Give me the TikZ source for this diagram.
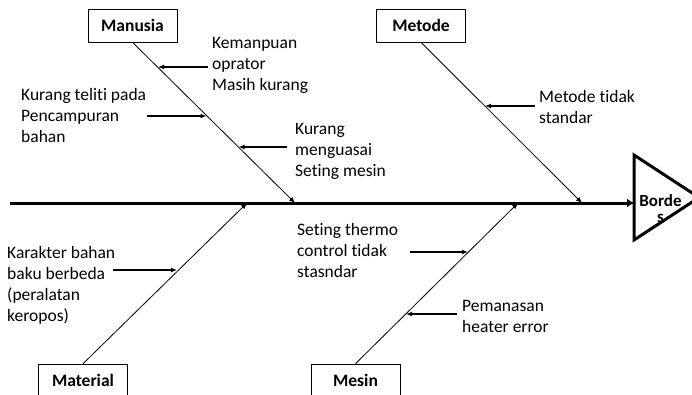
\documentclass[tikz,border=0pt]{standalone}
\usepackage{fontspec}
\setmainfont{Carlito}[Ligatures=NoCommon]
\usetikzlibrary{arrows.meta}

\begin{document}
\begin{tikzpicture}[x=1pt,y=-1pt,>={Latex[length=6pt,width=5pt]},
  every node/.style={font=\fontsize{17.5}{21}\selectfont},
  cause/.style={draw,line width=0.6pt,minimum width=89pt,minimum height=33pt,inner sep=0pt,
    font=\fontsize{17.5}{21}\selectfont\bfseries},
  note/.style={anchor=north west,align=left,inner sep=0pt},
  bone/.style={->,line width=0.8pt},
  twig/.style={->,line width=1.2pt}]
  \path[use as bounding box] (0,0) rectangle (692,394);
  \clip (0,0) rectangle (692,394);

  % categories
  \node[cause] (manusia)  at (132.5,25.5) {Manusia};
  \node[cause] (metode)   at (421,25.5)   {Metode};
  \node[cause] (material) at (83,380.5)   {Material};
  \node[cause] (mesin)    at (355.5,380.5) {Mesin};

  % spine and head
  \coordinate (tail) at (10,203);
  \coordinate (head) at (634,203);
  \coordinate (h1) at (634,155);
  \coordinate (h2) at (699,197.5);
  \coordinate (h3) at (634,240);
  \draw[line width=3pt,line join=miter] (h1) -- (h2) -- (h3) -- cycle;
  \node[anchor=north,align=center,inner sep=0pt,font=\fontsize{17}{16}\selectfont\bfseries]
    (bordes) at (660.5,194) {Borde\\s};
  \path[line width=3pt,-{Latex[length=7pt,width=9pt]}] (tail) edge (head);

  % bones
  \coordinate (s1) at (295,203);
  \coordinate (s2) at (582,203);
  \coordinate (s3) at (247,203);
  \coordinate (s4) at (518,203);
  \path[bone]
  (manusia.south) edge (s1)
  (metode.south) edge (s2)
  (material.north) edge (s3)
  (mesin.north) edge (s4)
  ;

  % causes
  \node[note] (n1) at (212,37)  {Kemanpuan\\oprator\\Masih kurang};
  \node[note] (n2) at (21,88)   {Kurang teliti pada\\Pencampuran\\bahan};
  \node[note] (n3) at (295,123) {Kurang\\menguasai\\Seting mesin};
  \node[note] (n4) at (539,90)  {Metode tidak\\standar};
  \node[note] (n5) at (7,246)   {Karakter bahan\\baku berbeda\\(peralatan\\keropos)};
  \node[note] (n6) at (297,223) {Seting thermo\\control tidak\\stasndar};
  \node[note] (n7) at (462,300) {Pemanasan\\heater error};

  \coordinate (a1) at (208,67);   \coordinate (b1) at (158,67);
  \coordinate (a2) at (147,116);  \coordinate (b2) at (206.5,116);
  \coordinate (a3) at (287,147);  \coordinate (b3) at (238.5,147);
  \coordinate (a4) at (535,106);  \coordinate (b4) at (485,106);
  \coordinate (a5) at (113,270);  \coordinate (b5) at (177,270);
  \coordinate (a6) at (410,252);  \coordinate (b6) at (468,252);
  \coordinate (a7) at (457,314);  \coordinate (b7) at (406,314);
  \path[twig]
  (a1) edge (b1)
  (a2) edge (b2)
  (a3) edge (b3)
  (a4) edge (b4)
  (a5) edge (b5)
  (a6) edge (b6)
  (a7) edge (b7)
  ;
\end{tikzpicture}
\end{document}
